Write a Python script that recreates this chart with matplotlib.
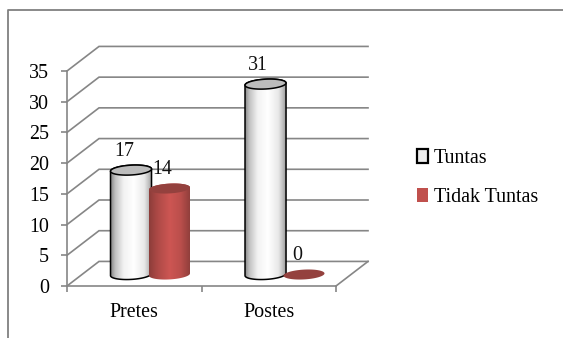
import numpy as np
import matplotlib
matplotlib.use('Agg')
import matplotlib.pyplot as plt
from matplotlib.lines import Line2D
from matplotlib.patches import Patch, Polygon

categories = ['Pretes', 'Postes']
tuntas = [17, 31]
tidak_tuntas = [14, 0]
series_names = ['Tuntas', 'Tidak Tuntas']
y_ticks = [0, 5, 10, 15, 20, 25, 30, 35]

GRID = '#868686'
FONT = 'Liberation Serif'
FS = 14.4

# oblique depth of the chart box, in axis units
DEPTH_X = 0.238
DEPTH_Y = 4.0
# bars stand half way into the box
BAR_DX = 0.112
BAR_DY = 1.87
BAR_W = 0.305
ELL_H = 0.8
ELL_TILT = 0.18


def shade(stops, n=128):
	pos = [s[0] for s in stops]
	rgb = np.array([matplotlib.colors.to_rgb(s[1]) for s in stops])
	xs = np.linspace(0, 1, n)
	return np.dstack([np.interp(xs, pos, rgb[:, i]) for i in range(3)])


white_shade = shade([(0, '#8a8a8a'), (0.1, '#c0c0c0'), (0.3, '#f2f2f2'), (0.55, '#ffffff'),
	(0.8, '#e8e8e8'), (0.93, '#b4b4b4'), (1, '#8a8a8a')])
red_shade = shade([(0, '#8c3d3a'), (0.2, '#ad4946'), (0.5, '#cd5653'), (0.75, '#bb4f4c'), (1, '#8c3d3a')])


def ellipse_pts(cx, cy, t):
	a = BAR_W / 2
	return np.column_stack([cx + a * np.cos(t), cy + ELL_H * np.sin(t) + ELL_TILT * np.cos(t)])


def cylinder(ax, x, val, img, top_col, edge, lw, z):
	cx = x + BAR_DX
	cy = BAR_DY
	front = ellipse_pts(cx, cy, np.linspace(np.pi, 2 * np.pi, 40))
	back = ellipse_pts(cx, cy + val, np.linspace(0, np.pi, 40))
	outline = np.vstack([front, back])
	if val > 0:
		body = Polygon(outline, closed=True, fc='none', ec='none', zorder=z, clip_on=False)
		ax.add_patch(body)
		im = ax.imshow(img, extent=[cx - BAR_W / 2, cx + BAR_W / 2, cy - 2, cy + val + 2],
			aspect='auto', zorder=z, interpolation='bilinear')
		im.set_clip_path(body)
		if edge != 'none':
			ax.add_patch(Polygon(outline, closed=True, fc='none', ec=edge, lw=lw, zorder=z + 0.1, clip_on=False))
	top = ellipse_pts(cx, cy + val, np.linspace(0, 2 * np.pi, 80))
	ax.add_patch(Polygon(top, closed=True, fc=top_col, ec=edge, lw=lw, zorder=z + 0.2, clip_on=False))
	ax.annotate(str(val), (cx, cy + val), xytext=(-5.2, 13.7), textcoords='offset points',
		ha='center', va='center', fontsize=FS, family=FONT, color='#111111', zorder=10)


fig = plt.figure(figsize=(5.63, 3.38), dpi=100, facecolor='white')
ax = fig.add_axes([67 / 563, 52 / 338, 269 / 563, 215 / 338])
ax.patch.set_alpha(0)

# back wall gridlines with the slanted side wall part
for v in y_ticks:
	ax.plot([0, DEPTH_X, 2 + DEPTH_X], [v, v + DEPTH_Y, v + DEPTH_Y], color=GRID, lw=1.2,
		clip_on=False, zorder=1, solid_joinstyle='miter')
ax.plot([2, 2 + DEPTH_X], [0, DEPTH_Y], color=GRID, lw=1.2, clip_on=False, zorder=1)

xpos = np.arange(len(categories)) + 0.5
for i in range(len(categories)):
	cylinder(ax, xpos[i] - 0.136, tuntas[i], white_shade, '#bcbcbc', '#000000', 1.1, 3)
	cylinder(ax, xpos[i] + 0.15, tidak_tuntas[i], red_shade, '#94413e', 'none', 0, 4)

ax.set_xlim(0, 2)
ax.set_ylim(0, 35)
ax.set_yticks(y_ticks)
ax.set_xticks([0, 1, 2])
ax.set_xticklabels([])
ax.set_xticks(xpos, minor=True)
ax.set_xticklabels(categories, minor=True, fontsize=FS, family=FONT)
ax.tick_params(axis='x', which='major', length=4, width=1.2, color=GRID)
ax.tick_params(axis='x', which='minor', length=0, pad=12.5)
ax.tick_params(axis='y', length=4, width=1.2, color=GRID, pad=9)
for lab in ax.get_yticklabels():
	lab.set_fontsize(FS)
	lab.set_family(FONT)
for s in ['top', 'right']:
	ax.spines[s].set_visible(False)
for s in ['left', 'bottom']:
	ax.spines[s].set_color(GRID)
	ax.spines[s].set_linewidth(1.2)

handles = [Patch(fc='#ececec', ec='#000000', lw=1.6), Patch(fc='#c0504d', ec='none')]
fig.legend(handles, series_names, loc='center left', bbox_to_anchor=(417 / 563, 1 - 178 / 338),
	frameon=False, handlelength=0.55, handleheight=0.7, handletextpad=0.3, labelspacing=1.0,
	borderpad=0, borderaxespad=0, prop={'family': FONT, 'size': FS})

# outer chart frame, only top and left are in the image
fig.add_artist(Line2D([8 / 563, 8 / 563, 1], [0, 1 - 10 / 338, 1 - 10 / 338], color='#808080', lw=1.3))

plt.savefig('out.png', dpi=100)
